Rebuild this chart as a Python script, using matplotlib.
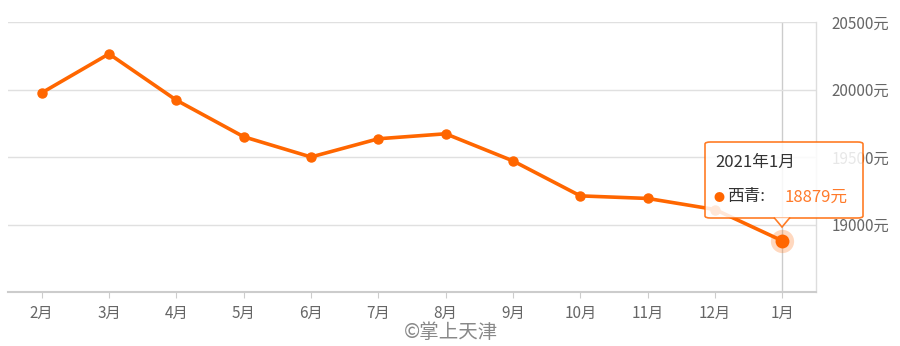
import matplotlib
matplotlib.use("Agg")
import matplotlib.pyplot as plt
from matplotlib.patches import FancyBboxPatch, Polygon

plt.rcParams["font.family"] = ["Noto Sans CJK SC", "DejaVu Sans"]

# ── Data ──────────────────────────────────────────────────────────────────────
months = ["2月", "3月", "4月", "5月", "6月", "7月", "8月", "9月",
          "10月", "11月", "12月", "1月"]
prices = [19975, 20264, 19921, 19650, 19500, 19635, 19672, 19471,
          19212, 19193, 19111, 18879]
y_ticks = [19000, 19500, 20000, 20500]

ORANGE = "#ff6600"
GRID = "#e0e0e0"
LABEL = "#666666"

fig = plt.figure(figsize=(9.0, 3.46), dpi=100)
ax = fig.add_axes([8 / 900, 54 / 346, 808 / 900, 270 / 346])

x = list(range(len(months)))
ax.plot(x, prices, color=ORANGE, linewidth=2.6, marker="o", markersize=6.5,
        zorder=3, solid_capstyle="round")

# highlighted last point
ax.scatter([x[-1]], [prices[-1]], s=280, color=ORANGE, alpha=0.25,
           linewidths=0, zorder=4)
ax.scatter([x[-1]], [prices[-1]], s=100, color=ORANGE, zorder=5,
           linewidths=0)

ax.set_xlim(-0.5, len(months) - 0.5)
ax.set_ylim(18500, 20500)
ax.set_xticks(x)
ax.set_xticklabels(months)
ax.set_yticks(y_ticks)
ax.set_yticklabels([f"{v}元" for v in y_ticks])
ax.yaxis.tick_right()
ax.grid(axis="y", color=GRID, linewidth=1)
ax.tick_params(axis="y", length=0, pad=11, labelsize=11, labelcolor=LABEL)
ax.tick_params(axis="x", length=4, color="#cccccc", pad=5, labelsize=11,
               labelcolor=LABEL)
for side in ("top", "left"):
    ax.spines[side].set_visible(False)
ax.spines["bottom"].set_color("#cccccc")
ax.spines["bottom"].set_linewidth(1.5)
ax.spines["right"].set_color("#dddddd")
ax.spines["right"].set_linewidth(1)

# crosshair
ax.axvline(x[-1], color="#cccccc", linewidth=1, zorder=1)

# ── Tooltip ───────────────────────────────────────────────────────────────────
box = FancyBboxPatch((705 / 900, 1 - 218 / 346), 158 / 900, 76 / 346,
                     boxstyle="round,pad=0,rounding_size=0.006",
                     transform=fig.transFigure, facecolor="white",
                     edgecolor=ORANGE, linewidth=1.2, alpha=0.85, zorder=10)
fig.patches.append(box)
arrow = Polygon([(774 / 900, 1 - 217.5 / 346), (782 / 900, 1 - 227 / 346),
                 (790 / 900, 1 - 217.5 / 346)], closed=False,
                transform=fig.transFigure, facecolor="white", alpha=0.85,
                edgecolor=ORANGE, linewidth=1.2, zorder=11)
fig.patches.append(arrow)
fig.text(715 / 900, 1 - 162 / 346, f"2021年{months[-1]}", fontsize=12,
         color="#333333", va="center", ha="left", zorder=12)
fig.text(719 / 900, 1 - 198 / 346, "●", fontsize=8, color=ORANGE,
         va="center", ha="center", zorder=12)
fig.text(727 / 900, 1 - 197 / 346, "西青:", fontsize=12, color="#333333",
         va="center", ha="left", zorder=12)
fig.text(785 / 900, 1 - 197 / 346, f"{prices[-1]}元", fontsize=12,
         color="#ff7a2a", va="center", ha="left", zorder=12)

# watermark
fig.text(451 / 900, 1 - 333 / 346, "©掌上天津", fontsize=14, color="#888888",
         va="center", ha="center")

fig.savefig("out.png", dpi=100, facecolor="white")
